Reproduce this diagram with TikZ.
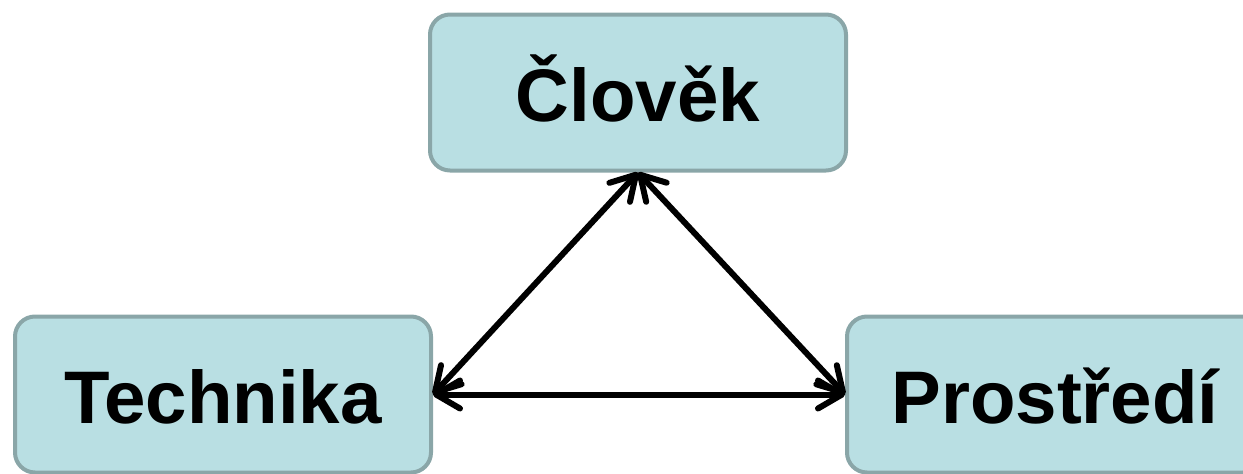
\documentclass[tikz,border=0pt]{standalone}
\usepackage{fontspec}
\setmainfont{Liberation Sans}
\usetikzlibrary{arrows.meta}
\definecolor{boxfill}{HTML}{B9DFE3}
\definecolor{boxline}{HTML}{8AA6A8}
\tikzset{
  termbox/.style={draw=boxline, fill=boxfill, line width=4pt, rounded corners=20pt,
    minimum width=416pt, minimum height=156pt, inner sep=0pt,
    font=\fontsize{74.5}{80}\selectfont\bfseries, text height=58pt, text depth=0pt},
  link/.style={line width=6pt, {Straight Barb[length=24pt,width=28pt,line cap=round,line join=round]}-{Straight Barb[length=24pt,width=28pt,line cap=round,line join=round]}}
}
\begin{document}
\begin{tikzpicture}[x=1pt,y=-1pt]
\useasboundingbox (0,0) rectangle (1243,474);
\node[termbox] (clovek) at (638,92.5) {Člověk};
\node[termbox] (technika) at (223,394.5) {Technika};
\node[termbox] (prostredi) at (1055,394.5) {Prostředí};
\draw[link] (technika.east) -- (clovek.south);
\draw[link] (clovek.south) -- (prostredi.west);
\draw[link] (technika.east) -- (prostredi.west);
\end{tikzpicture}
\end{document}
